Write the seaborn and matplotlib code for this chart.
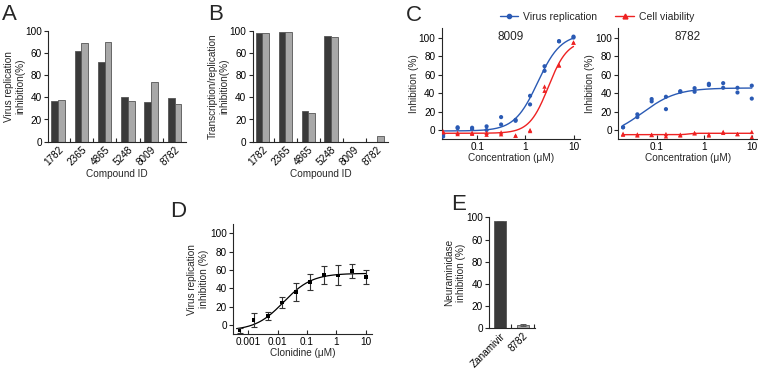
import numpy as np
import pandas as pd
import matplotlib
matplotlib.use("Agg")
import matplotlib.pyplot as plt
from matplotlib.lines import Line2D
from matplotlib.ticker import FixedLocator, NullLocator
import seaborn as sns

# ---------------- data ----------------
compounds = ["1782", "2365", "4865", "5248", "8009", "8782"]
a_dark = [36.4, 82.0, 72.0, 40.0, 35.5, 39.0]
a_light = [37.9, 89.3, 89.9, 36.4, 54.0, 34.0]
b_dark = [97.9, 98.5, 28.0, 95.5, 0.0, 0.0]
b_light = [98.2, 98.5, 25.7, 94.0, 0.0, 5.0]
# tick labels exactly as printed on the original bar charts
bar_yticks = [0, 20, 40, 60, 80, 100]
bar_ytick_labels = ["0", "20", "40", "80", "60", "100"]

conc_c = [0.0195, 0.039, 0.078, 0.156, 0.3125, 0.625, 1.25, 2.5, 5, 10]
virus_8009_r1 = [-5, 3, 2.5, 4, 14, 11, 37, 69, 96, 101]
virus_8009_r2 = [-7, 2, 1, 0, 6, 10, 27.7, 64, 96, 100]
cell_8009_r1 = [-2.5, -4.3, -3, -3, -2.5, -6, 0, 47, 70, 94.6]
cell_8009_r2 = [-1.4, -3, -4, -5, -4.5, -6, -1, 42.5, 70, 94.6]
virus_8782_r1 = [3, 17, 33.5, 36, 41.4, 45.3, 50, 50.7, 45.7, 48]
virus_8782_r2 = [3, 14, 31, 22.6, 42, 41.4, 48.6, 45.7, 40.6, 34]
cell_8782_r1 = [-5, -4.7, -5.4, -4.3, -5, -3.2, -4.7, -2, -4.3, -2]
cell_8782_r2 = [-4, -5.8, -5, -6.8, -5.8, -3.5, -5.8, -3, -4.3, -7.5]

# 4-parameter logistic fits: bottom, top, EC50, hill
fit_virus_8009 = (-1, 104, 1.8, 1.8)
fit_cell_8009 = (-3.5, 97, 3.0, 2.2)
fit_virus_8782 = (-8, 45.5, 0.05, 1.2)
fit_cell_8782 = (-5, -3.5, 0.45, 8)

conc_d = [0.000508, 0.00152, 0.00457, 0.0137, 0.0412, 0.123, 0.37, 1.11, 3.33, 10]
clonidine_mean = [-6, 5.4, 10, 24.6, 35.9, 47, 54.7, 54.3, 59, 52.5]
clonidine_err = [3, 7.5, 4, 6, 10, 9, 9.5, 11, 7.5, 8]
fit_clonidine = (-6, 56.5, 0.016, 0.9)

e_names = ["Zanamivir", "8782"]
e_values = [97.0, 2.7]
e_err = [0.0, 1.0]

# ---------------- style ----------------
sns.set_theme(style="ticks")
plt.rcParams["font.family"] = ["Liberation Sans", "DejaVu Sans"]
plt.rcParams["font.size"] = 7.2
plt.rcParams["axes.linewidth"] = 0.8
plt.rcParams["axes.labelpad"] = 0

DARK = "#3a3a3a"
LIGHT = "#a8a8a8"
BLUE = "#2a5ab4"
RED = "#ee2222"
W, H = 758, 369


def box(l, r, t, b):
    return [l / W, 1 - b / H, (r - l) / W, (b - t) / H]


def four_pl(x, p):
    bottom, top, ec50, hill = p
    return bottom + (top - bottom) / (1 + (ec50 / x) ** hill)


def style_common(ax):
    sns.despine(ax=ax)
    ax.tick_params(axis="y", direction="out", length=3, width=0.8, labelsize=7.2, pad=1.5)
    ax.tick_params(axis="x", direction="in", length=3, width=0.8, labelsize=7.2, pad=2)
    for lab in ax.get_xticklabels() + ax.get_yticklabels():
        lab.set_color("black")


def bar_panel(ax, dark, light, ylabel):
    df = pd.DataFrame({
        "compound": compounds * 2,
        "value": dark + light,
        "set": ["dark"] * len(compounds) + ["light"] * len(compounds),
    })
    sns.barplot(data=df, x="compound", y="value", hue="set", palette=[DARK, LIGHT],
                width=0.58, edgecolor="#555555", linewidth=0.6, errorbar=None,
                legend=False, ax=ax)
    ax.set_xlim(-0.42, len(compounds) - 0.52)
    ax.set_ylim(0, 100)
    ax.set_yticks(bar_yticks)
    ax.set_yticklabels(bar_ytick_labels)
    ax.set_xlabel("Compound ID", fontsize=7.2, labelpad=1)
    ax.set_ylabel(ylabel, fontsize=7.2, labelpad=0)
    style_common(ax)
    ax.xaxis.set_minor_locator(FixedLocator(np.arange(0.5, len(compounds), 1)))
    ax.tick_params(axis="x", which="major", length=0)
    ax.tick_params(axis="x", which="minor", direction="in", length=3, width=0.8)
    plt.setp(ax.get_xticklabels(), rotation=45, ha="right", va="top", rotation_mode="anchor")


fig = plt.figure(figsize=(W / 100, H / 100), dpi=100)

# ---- A ----
axA = fig.add_axes(box(48.3, 185.7, 30.7, 141.7))
bar_panel(axA, a_dark, a_light, "Virus replication\ninhibition(%)")

# ---- B ----
axB = fig.add_axes(box(252.7, 388, 30.7, 141.7))
bar_panel(axB, b_dark, b_light, "Transcription/replication\ninhibition(%)")


# ---- C ----
def dose_panel(ax, v1, v2, c1, c2, fit_v, fit_c, title, xlo, xhi):
    xs = np.logspace(np.log10(conc_c[0]), np.log10(conc_c[-1]), 200)
    sns.lineplot(x=xs, y=four_pl(xs, fit_v), color=BLUE, lw=1.0, ax=ax)
    sns.lineplot(x=xs, y=four_pl(xs, fit_c), color=RED, lw=1.0, ax=ax)
    sns.scatterplot(x=conc_c * 2, y=v1 + v2, color=BLUE, marker="o", s=9,
                    edgecolor="none", ax=ax, zorder=3)
    sns.scatterplot(x=conc_c * 2, y=c1 + c2, color=RED, marker="^", s=10,
                    edgecolor="none", ax=ax, zorder=3)
    ax.set_xscale("log")
    ax.set_xlim(xlo, xhi)
    ax.set_ylim(-10, 110)
    ax.set_yticks([0, 20, 40, 60, 80, 100])
    ax.set_xticks([0.1, 1, 10])
    ax.set_xticklabels(["0.1", "1", "10"])
    ax.xaxis.set_minor_locator(NullLocator())
    ax.set_xlabel("Concentration (\u03bcM)", fontsize=7.2, labelpad=1)
    ax.set_ylabel("Inhibition (%)", fontsize=7.2, labelpad=0)
    ax.text(0.5, 0.92, title, transform=ax.transAxes, ha="center", va="center", fontsize=8.5)
    style_common(ax)


axC1 = fig.add_axes(box(441.7, 580, 28.3, 139.3))
dose_panel(axC1, virus_8009_r1, virus_8009_r2, cell_8009_r1, cell_8009_r2,
           fit_virus_8009, fit_cell_8009, "8009", 10 ** -1.74, 10 ** 1.135)
axC2 = fig.add_axes(box(618.3, 757, 28.3, 139.3))
dose_panel(axC2, virus_8782_r1, virus_8782_r2, cell_8782_r1, cell_8782_r2,
           fit_virus_8782, fit_cell_8782, "8782", 10 ** -1.81, 10 ** 1.11)

handles = [
    Line2D([], [], color=BLUE, lw=1.0, marker="o", markersize=3),
    Line2D([], [], color=RED, lw=1.0, marker="^", markersize=3.5),
]
fig.legend(handles, ["Virus replication", "Cell viability"], loc="center",
           bbox_to_anchor=(597 / W, 1 - 16.7 / H), ncol=2, frameon=False,
           fontsize=7.5, handlelength=1.8, handletextpad=0.5, columnspacing=1.7)

# ---- D ----
axD = fig.add_axes(box(233.3, 371.7, 224.3, 334.3))
xd = np.logspace(np.log10(0.0004), 1, 200)
sns.lineplot(x=xd, y=four_pl(xd, fit_clonidine), color="black", lw=0.9, ax=axD)
axD.errorbar(conc_d, clonidine_mean, yerr=clonidine_err, fmt="none", ecolor="#333333",
             elinewidth=0.8, capsize=2, capthick=0.8)
sns.scatterplot(x=conc_d, y=clonidine_mean, color="black", marker="s", s=7,
                edgecolor="none", ax=axD, zorder=3)
axD.set_xscale("log")
axD.set_xlim(10 ** -3.51, 10 ** 1.2)
axD.set_ylim(-10, 110)
axD.set_yticks([0, 20, 40, 60, 80, 100])
axD.set_xticks([0.001, 0.01, 0.1, 1, 10])
axD.set_xticklabels(["0.001", "0.01", "0.1", "1", "10"])
axD.xaxis.set_minor_locator(NullLocator())
axD.set_xlabel("Clonidine (\u03bcM)", fontsize=7.2, labelpad=1)
axD.set_ylabel("Virus replication\ninhibition (%)", fontsize=7.2, labelpad=1)
style_common(axD)

# ---- E ----
axE = fig.add_axes(box(489.3, 535, 217.3, 328.3))
sns.barplot(x=e_names, y=e_values, hue=e_names, palette=[DARK, LIGHT], width=0.53,
            edgecolor="#555555", linewidth=0.6, errorbar=None, legend=False, ax=axE)
axE.errorbar([0, 1], e_values, yerr=e_err, fmt="none", ecolor="#555555",
             elinewidth=0.7, capsize=2, capthick=0.7)
axE.set_xlim(-0.47, 1.54)
axE.set_ylim(0, 100)
axE.set_yticks(bar_yticks)
axE.set_yticklabels(bar_ytick_labels)
axE.set_ylabel("Neuraminidase\ninhibition (%)", fontsize=7.2, labelpad=0)
style_common(axE)
axE.xaxis.set_minor_locator(FixedLocator([0.5, 1.5]))
axE.tick_params(axis="x", which="major", length=0)
axE.tick_params(axis="x", which="minor", direction="in", length=3, width=0.8)
plt.setp(axE.get_xticklabels(), rotation=45, ha="right", va="top", rotation_mode="anchor")

# ---- panel letters ----
for letter, px, py in [("A", 2, 20), ("B", 208, 20), ("C", 406, 20.7),
                       ("D", 170, 216.7), ("E", 451, 210)]:
    fig.text(px / W, 1 - py / H, letter, fontsize=16, va="baseline", ha="left")

fig.savefig("out.png", dpi=100)
